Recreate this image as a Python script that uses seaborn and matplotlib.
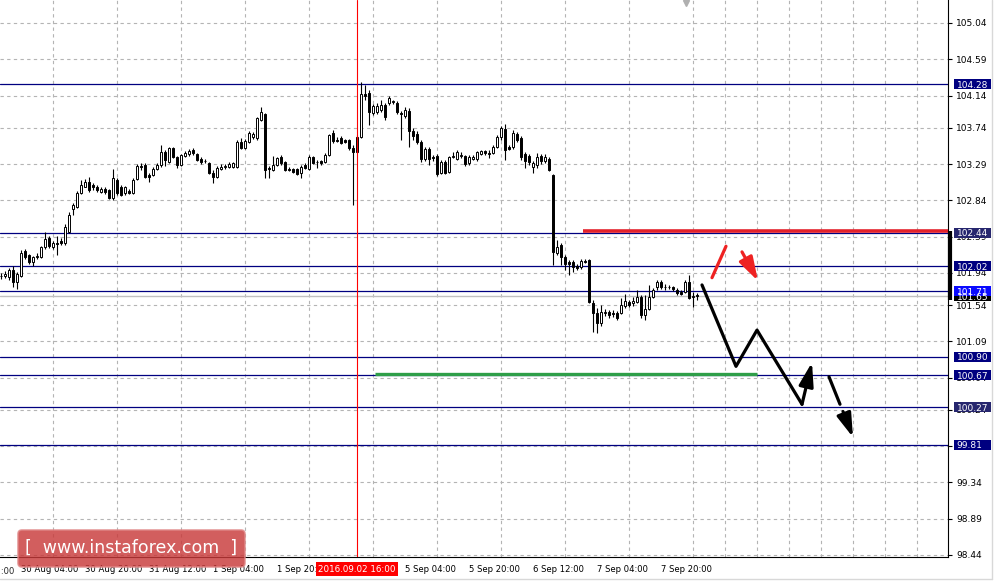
import numpy as np
import pandas as pd
import matplotlib
matplotlib.use("Agg")
import matplotlib.pyplot as plt
import matplotlib.transforms as mtransforms
from matplotlib.patches import Rectangle, FancyBboxPatch
from matplotlib.lines import Line2D
import seaborn as sns

# Hourly candles, bar 0 = 29 Aug 23:00 ... bar 174 = 8 Sep 05:00
OPEN = [101.90, 101.90, 101.89, 101.98, 101.83, 101.90, 102.21, 102.16, 102.07, 102.14,
        102.14, 102.26, 102.37, 102.26, 102.31, 102.34, 102.31, 102.45, 102.73, 102.76,
        102.93, 103.01, 103.07, 103.03, 103.01, 102.94, 102.98, 102.97, 102.87, 103.09,
        103.01, 102.93, 102.96, 102.93, 103.11, 103.27, 103.28, 103.16, 103.16, 103.23,
        103.28, 103.44, 103.32, 103.49, 103.38, 103.28, 103.39, 103.42, 103.47, 103.42,
        103.35, 103.33, 103.30, 103.18, 103.13, 103.23, 103.25, 103.25, 103.25, 103.25,
        103.56, 103.49, 103.56, 103.63, 103.61, 103.84, 103.91, 103.24, 103.22, 103.28,
        103.38, 103.32, 103.23, 103.23, 103.23, 103.18, 103.28, 103.23, 103.38, 103.32,
        103.33, 103.32, 103.40, 103.67, 103.59, 103.61, 103.59, 103.59, 103.49, 103.44,
        103.63, 104.16, 104.17, 103.92, 103.94, 103.96, 104.02, 104.05, 104.06, 104.05,
        103.92, 103.89, 103.95, 103.70, 103.66, 103.56, 103.35, 103.48, 103.38, 103.39,
        103.18, 103.32, 103.19, 103.38, 103.35, 103.39, 103.39, 103.30, 103.35, 103.35,
        103.42, 103.45, 103.43, 103.43, 103.50, 103.63, 103.73, 103.50, 103.50, 103.66,
        103.61, 103.42, 103.39, 103.25, 103.28, 103.39, 103.33, 103.35, 103.16, 102.19,
        102.29, 102.14, 102.07, 102.07, 102.03, 102.01, 102.09, 102.10, 101.57, 101.44,
        101.32, 101.44, 101.46, 101.44, 101.44, 101.44, 101.53, 101.58, 101.56, 101.58,
        101.64, 101.42, 101.49, 101.64, 101.77, 101.83, 101.77, 101.77, 101.77, 101.73,
        101.70, 101.70, 101.83, 101.64, 101.66]
HIGH = [101.94, 101.96, 102.00, 102.03, 101.95, 102.22, 102.24, 102.17, 102.15, 102.19,
        102.27, 102.45, 102.40, 102.34, 102.40, 102.37, 102.55, 102.70, 102.81, 102.96,
        103.09, 103.11, 103.13, 103.06, 103.03, 103.01, 103.00, 102.98, 103.23, 103.12,
        103.03, 103.02, 102.98, 103.12, 103.29, 103.30, 103.30, 103.18, 103.25, 103.30,
        103.53, 103.47, 103.50, 103.50, 103.39, 103.42, 103.45, 103.48, 103.49, 103.43,
        103.38, 103.35, 103.32, 103.22, 103.27, 103.29, 103.29, 103.32, 103.32, 103.59,
        103.61, 103.60, 103.70, 103.69, 103.87, 104.00, 103.92, 103.27, 103.39, 103.38,
        103.40, 103.33, 103.25, 103.24, 103.24, 103.28, 103.30, 103.40, 103.39, 103.34,
        103.34, 103.43, 103.66, 103.71, 103.63, 103.64, 103.60, 103.60, 103.52, 103.65,
        104.31, 104.27, 104.21, 104.04, 104.05, 104.09, 104.05, 104.13, 104.09, 104.07,
        103.95, 104.00, 103.99, 103.74, 103.70, 103.59, 103.50, 103.50, 103.40, 103.42,
        103.34, 103.34, 103.39, 103.44, 103.47, 103.44, 103.40, 103.40, 103.40, 103.45,
        103.47, 103.47, 103.47, 103.53, 103.65, 103.76, 103.79, 103.53, 103.71, 103.69,
        103.64, 103.44, 103.42, 103.33, 103.43, 103.42, 103.42, 103.38, 103.17, 102.35,
        102.31, 102.16, 102.10, 102.10, 102.05, 102.11, 102.11, 102.11, 101.60, 101.51,
        101.54, 101.49, 101.48, 101.48, 101.47, 101.63, 101.68, 101.60, 101.64, 101.73,
        101.67, 101.67, 101.79, 101.75, 101.85, 101.85, 101.80, 101.79, 101.78, 101.75,
        101.73, 101.85, 101.91, 101.70, 101.69]
LOW = [101.87, 101.88, 101.85, 101.77, 101.74, 101.89, 102.11, 102.05, 102.03, 102.11,
       102.13, 102.24, 102.25, 102.24, 102.16, 102.29, 102.29, 102.44, 102.66, 102.75,
       102.92, 103.00, 102.94, 102.97, 102.94, 102.93, 102.92, 102.86, 102.85, 102.91,
       102.89, 102.91, 102.92, 102.92, 103.09, 103.22, 103.12, 103.07, 103.14, 103.22,
       103.25, 103.27, 103.30, 103.37, 103.24, 103.27, 103.38, 103.39, 103.40, 103.33,
       103.29, 103.30, 103.17, 103.06, 103.12, 103.22, 103.23, 103.24, 103.24, 103.24,
       103.48, 103.48, 103.55, 103.60, 103.59, 103.82, 103.12, 103.12, 103.20, 103.27,
       103.28, 103.20, 103.20, 103.18, 103.16, 103.12, 103.23, 103.22, 103.29, 103.24,
       103.28, 103.30, 103.39, 103.55, 103.56, 103.54, 103.55, 103.47, 102.78, 103.43,
       103.61, 104.09, 103.78, 103.90, 103.91, 103.94, 103.84, 104.02, 104.04, 103.91,
       103.59, 103.86, 103.50, 103.59, 103.54, 103.32, 103.33, 103.28, 103.33, 103.14,
       103.17, 103.17, 103.18, 103.37, 103.34, 103.37, 103.27, 103.28, 103.34, 103.33,
       103.40, 103.40, 103.37, 103.42, 103.49, 103.59, 103.34, 103.47, 103.48, 103.56,
       103.34, 103.24, 103.28, 103.18, 103.24, 103.29, 103.30, 103.20, 102.04, 102.16,
       102.04, 101.98, 101.91, 101.95, 101.98, 101.99, 102.06, 101.57, 101.21, 101.20,
       101.28, 101.41, 101.38, 101.39, 101.36, 101.43, 101.51, 101.52, 101.53, 101.56,
       101.38, 101.36, 101.48, 101.63, 101.73, 101.74, 101.73, 101.74, 101.72, 101.67,
       101.66, 101.69, 101.62, 101.52, 101.60]
CLOSE = [101.90, 101.93, 101.98, 101.83, 101.93, 102.19, 102.14, 102.07, 102.14, 102.15,
         102.26, 102.36, 102.27, 102.31, 102.30, 102.31, 102.51, 102.66, 102.78, 102.93,
         103.03, 103.07, 102.97, 103.00, 102.97, 102.98, 102.94, 102.87, 103.12, 102.93,
         102.91, 103.00, 102.93, 103.09, 103.27, 103.25, 103.13, 103.13, 103.23, 103.28,
         103.44, 103.34, 103.49, 103.38, 103.28, 103.40, 103.43, 103.45, 103.43, 103.34,
         103.32, 103.33, 103.18, 103.13, 103.24, 103.25, 103.26, 103.29, 103.30, 103.56,
         103.49, 103.58, 103.67, 103.66, 103.86, 103.94, 103.22, 103.23, 103.28, 103.37,
         103.30, 103.22, 103.22, 103.19, 103.17, 103.25, 103.24, 103.38, 103.30, 103.31,
         103.30, 103.40, 103.65, 103.58, 103.58, 103.55, 103.56, 103.49, 103.44, 103.63,
         104.16, 104.13, 103.94, 104.01, 104.01, 104.02, 103.87, 104.11, 104.07, 103.94,
         103.91, 103.96, 103.70, 103.64, 103.56, 103.35, 103.48, 103.35, 103.36, 103.17,
         103.32, 103.18, 103.38, 103.39, 103.44, 103.40, 103.29, 103.38, 103.38, 103.44,
         103.45, 103.43, 103.42, 103.50, 103.63, 103.74, 103.47, 103.48, 103.67, 103.59,
         103.38, 103.33, 103.32, 103.30, 103.38, 103.33, 103.38, 103.22, 102.20, 102.26,
         102.14, 102.05, 102.05, 102.01, 102.00, 102.09, 102.08, 101.58, 101.44, 101.32,
         101.46, 101.45, 101.42, 101.43, 101.38, 101.54, 101.59, 101.54, 101.59, 101.64,
         101.42, 101.49, 101.64, 101.73, 101.83, 101.77, 101.76, 101.76, 101.74, 101.69,
         101.68, 101.83, 101.63, 101.65, 101.65]

# price axis labels and support/resistance levels
Y_TICKS = [105.04, 104.59, 104.14, 103.74, 103.29, 102.84, 102.39, 101.94,
           101.54, 101.09, 100.64, 100.24, 99.79, 99.34, 98.89, 98.44]
LEVELS = [104.28, 102.44, 102.02, 101.71, 100.90, 100.67, 100.27, 99.81]
LEVEL_BOX = ["#000080", "#26266e", "#000080", "#0a0aff", "#000080", "#000080", "#26266e", "#000080"]
BID = 101.65

# time axis (bar index); the 2 Sep 12:00 tick sits under the cursor label
XTICK_POS = [5, 21, 37, 53, 69, 85, 101, 117, 133, 149, 165]
XTICK_LABELS = ["30 Aug 04:00", "30 Aug 20:00", "31 Aug 12:00", "1 Sep 04:00", "1 Sep 20:00",
                "", "5 Sep 04:00", "5 Sep 20:00", "6 Sep 12:00", "7 Sep 04:00",
                "7 Sep 20:00"]
CURSOR_BAR = 89
CURSOR_LABEL = "2016.09.02 16:00"

# drawn analysis
RESIST = dict(x=[145.5, 236.75], y=[102.455, 102.455])
SUPPORT = dict(x=[93.5, 189.0], y=[100.69, 100.69])
PATH_X = [175.25, 183.75, 189.0, 200.25]
PATH_Y = [101.79, 100.78, 101.23, 100.31]
PATH_TIP = (202.75, 100.83)
DOWN2_X = [207.0, 209.75]
DOWN2_Y = [100.65, 100.31]
DOWN2_ARROW = [(210.5, 100.22), (213.0, 99.90)]
RED_X = [177.75, 181.25]
RED_Y = [101.88, 102.27]
RED_ARROW = [(185.25, 102.20), (189.25, 101.84)]

sns.set_style("white")
plt.rcParams["font.family"] = ["DejaVu Sans"]

df = pd.DataFrame({"open": OPEN, "high": HIGH, "low": LOW, "close": CLOSE})
df["bar"] = np.arange(len(df))
df["up"] = df["close"] >= df["open"]

fig = plt.figure(figsize=(9.95, 5.81), dpi=100)
ax = fig.add_axes([0, 24 / 581, 948 / 995, 557 / 581])
ax.set_xlim(-0.25, 236.75)
ax.set_ylim(98.415, 105.325)

# grid
ax.set_yticks(Y_TICKS)
ax.set_yticklabels([f"{v:.2f}" for v in Y_TICKS])
ax.yaxis.tick_right()
ax.set_xticks(XTICK_POS)
ax.set_xticklabels(XTICK_LABELS)
ax.set_xticks(np.arange(5, 237, 8), minor=True)
gstyle = dict(color="#b4b4b4", linestyle=(0, (3, 3)), linewidth=0.8)
ax.grid(axis="y", which="major", **gstyle)
ax.grid(axis="x", which="minor", **gstyle)
ax.grid(axis="x", which="major", visible=False)
ax.tick_params(axis="x", which="minor", length=0)
ax.tick_params(axis="both", which="major", direction="out", length=3, width=0.8,
               color="black", pad=3, labelcolor="black")
ax.tick_params(axis="y", labelsize=6.5)
ax.tick_params(axis="x", labelsize=6.1)
for lab in ax.get_xticklabels():
    lab.set_ha("left")
for s in ["top", "left"]:
    ax.spines[s].set_visible(False)
for s in ["right", "bottom"]:
    ax.spines[s].set_color("black")
    ax.spines[s].set_linewidth(0.8)

# horizontal levels
for lv in LEVELS:
    ax.axhline(lv, color="#000080", lw=0.9, zorder=2)
ax.axhline(BID, color="#c0c0c0", lw=1.0, zorder=2)

# candles
ax.vlines(df["bar"], df["low"], df["high"], color="black", lw=0.8, zorder=3)
ax.bar(df["bar"], df["close"] - df["open"], bottom=df["open"], width=0.55,
       color=np.where(df["up"], "white", "black"), edgecolor="black", linewidth=0.7, zorder=4)

# cursor line
ax.axvline(CURSOR_BAR, color="red", lw=0.8, zorder=5)

# resistance / support
ax.plot(RESIST["x"], RESIST["y"], color="#e3212b", lw=2.6, solid_capstyle="butt", zorder=5)
ax.plot(SUPPORT["x"], SUPPORT["y"], color="#2e9e48", lw=2.4, solid_capstyle="butt", zorder=5)

# forecast path
sns.lineplot(x=PATH_X, y=PATH_Y, sort=False, estimator=None, color="black", lw=2.3, ax=ax, zorder=6)
sns.lineplot(x=DOWN2_X, y=DOWN2_Y, sort=False, estimator=None, color="black", lw=2.3, ax=ax, zorder=6)
sns.lineplot(x=RED_X, y=RED_Y, sort=False, estimator=None, color="#ee2222", lw=2.3, ax=ax, zorder=6)
head = "-|>,head_length=1.3,head_width=0.4"
for (x0, y0), (x1, y1), col in [((PATH_X[-1], PATH_Y[-1]), PATH_TIP, "black"),
                                (DOWN2_ARROW[0], DOWN2_ARROW[1], "black"),
                                (RED_ARROW[0], RED_ARROW[1], "#ee2222")]:
    ax.annotate("", xy=(x1, y1), xytext=(x0, y0),
                arrowprops=dict(arrowstyle=head, color=col, lw=2.3, shrinkA=0, shrinkB=0,
                                mutation_scale=11), zorder=6)

# price boxes on the right axis
bt = mtransforms.blended_transform_factory(ax.transAxes, ax.transData)
boxes = [(BID, "black")] + list(zip(LEVELS, LEVEL_BOX))
boxes.sort(key=lambda b: b[1] == "#0a0aff")
for lv, col in boxes:
    ax.add_patch(Rectangle((954 / 948, lv - 0.062), 37 / 948, 0.124, transform=bt,
                           facecolor=col, edgecolor="none", clip_on=False, zorder=8))
    ax.text(956.5 / 948, lv, f"{lv:.2f}", transform=bt, color="white", fontsize=6.5,
            va="center_baseline", ha="left", clip_on=False, zorder=9)
ax.plot([237.25, 237.25], [102.46, 101.60], color="black", lw=3, clip_on=False,
        solid_capstyle="butt", zorder=7)

# time label left of the data range and cursor label
ax.annotate("29 Aug 12:00", xy=(-11, 0), xycoords=("data", "axes fraction"),
            xytext=(0, -7.2), textcoords="offset points", fontsize=6.1, ha="left",
            va="top", annotation_clip=False)
ax.annotate(CURSOR_LABEL, xy=(CURSOR_BAR, 0), xycoords=("data", "axes fraction"),
            xytext=(0, -12), textcoords="offset pixels", ha="center", va="center",
            color="white", fontsize=6.3, annotation_clip=False, zorder=10,
            bbox=dict(boxstyle="square,pad=0.3", fc="#ff0000", ec="none"))
ax.plot(171.25, 105.29, marker="v", ms=5, color="#b0b0b0", clip_on=False, zorder=6)

# watermark
ident = mtransforms.IdentityTransform()
fig.add_artist(FancyBboxPatch((18, 14), 227, 37, boxstyle="round,pad=0,rounding_size=4",
                              transform=ident, facecolor="#c83a3a", edgecolor="#e08888",
                              alpha=0.82, lw=1.2, zorder=20))
fig.text(131 / 995, 33 / 581, "[  www.instaforex.com  ]", color="white", fontsize=12.5,
         ha="center", va="center", zorder=21)

# outer frame
fig.add_artist(Line2D([992 / 995, 992 / 995], [2 / 581, 1], color="#d8d8d8", lw=1,
                      transform=fig.transFigure))
fig.add_artist(Line2D([0, 992 / 995], [2 / 581, 2 / 581], color="#d8d8d8", lw=1,
                      transform=fig.transFigure))

fig.savefig("out.png", dpi=100)
